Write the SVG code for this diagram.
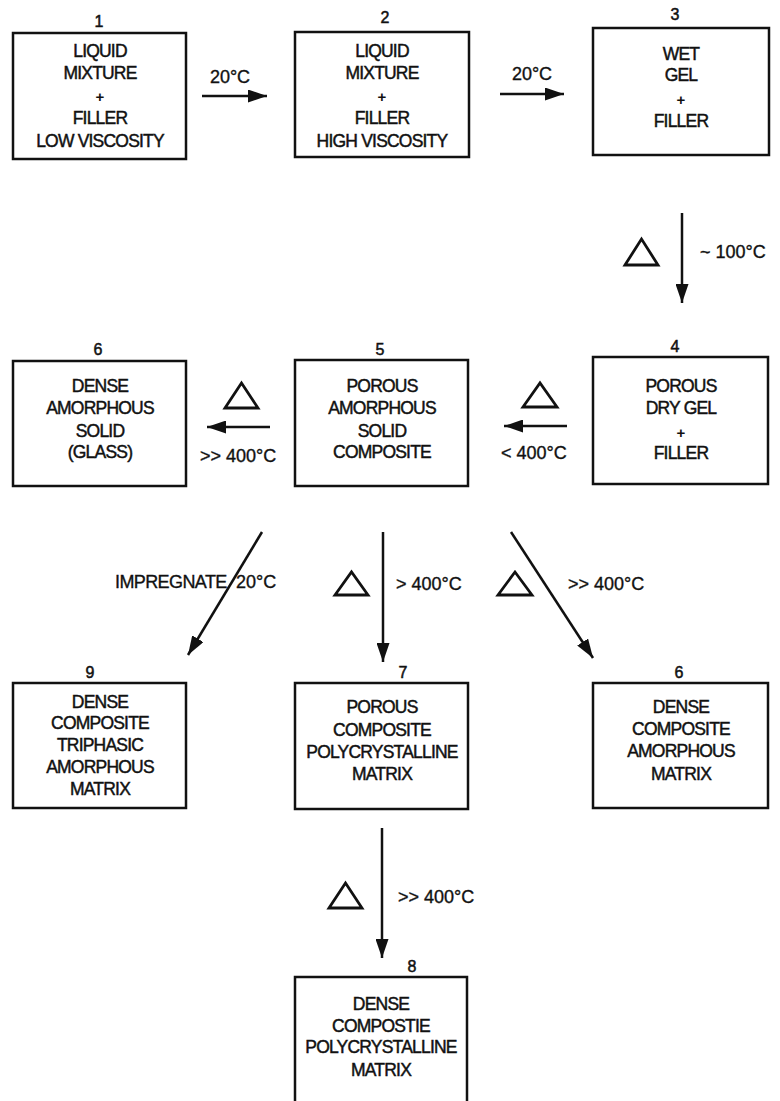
<svg xmlns="http://www.w3.org/2000/svg" width="780" height="1101" viewBox="0 0 780 1101">
  <style>
    .box { fill: #fff; stroke: #111; stroke-width: 2.5; }
    .t { font-family: "Liberation Sans", Arial, sans-serif; font-size: 17.5px; letter-spacing: -0.8px; fill: #111; stroke: #111; stroke-width: 0.45; text-anchor: middle; }
    .plus { font-family: "Liberation Sans", Arial, sans-serif; font-size: 15px; font-weight: bold; fill: #111; text-anchor: middle; }
    .num { font-family: "Liberation Sans", Arial, sans-serif; font-size: 16px; fill: #111; stroke: #111; stroke-width: 0.5; text-anchor: middle; }
    .lbl { font-family: "Liberation Sans", Arial, sans-serif; font-size: 18px; fill: #111; stroke: #111; stroke-width: 0.35; }
    .edge { stroke: #111; stroke-width: 2.5; fill: none; marker-end: url(#head); }
    .delta { fill: none; stroke: #111; stroke-width: 2.8; stroke-linejoin: miter; }
  </style>
  <defs>
    <marker id="head" markerUnits="userSpaceOnUse" markerWidth="19" markerHeight="13" refX="19" refY="6.5" orient="auto">
      <path d="M0,0 L19,6.5 L0,13 z" fill="#111"/>
    </marker>
  </defs>
  <rect width="780" height="1101" fill="#fff"/>

  <!-- row 1 -->
  <g id="node1">
    <text class="num" x="99" y="27">1</text>
    <rect class="box" x="13" y="33" width="173" height="126"/>
    <text class="t" x="100" y="57">LIQUID</text>
    <text class="t" x="100" y="79">MIXTURE</text>
    <text class="plus" x="100" y="102">+</text>
    <text class="t" x="100" y="124">FILLER</text>
    <text class="t" x="100" y="147">LOW VISCOSITY</text>
  </g>
  <g id="node2">
    <text class="num" x="385" y="23">2</text>
    <rect class="box" x="295" y="32" width="174" height="125"/>
    <text class="t" x="382" y="57">LIQUID</text>
    <text class="t" x="382" y="79">MIXTURE</text>
    <text class="plus" x="382" y="102">+</text>
    <text class="t" x="382" y="124">FILLER</text>
    <text class="t" x="382" y="147">HIGH VISCOSITY</text>
  </g>
  <g id="node3">
    <text class="num" x="675" y="20">3</text>
    <rect class="box" x="593" y="28" width="176" height="127"/>
    <text class="t" x="681" y="60">WET</text>
    <text class="t" x="681" y="81">GEL</text>
    <text class="plus" x="681" y="105">+</text>
    <text class="t" x="681" y="127">FILLER</text>
  </g>

  <!-- row 2 -->
  <g id="node6">
    <text class="num" x="98" y="355">6</text>
    <rect class="box" x="13" y="361" width="173" height="125"/>
    <text class="t" x="100" y="392">DENSE</text>
    <text class="t" x="100" y="414">AMORPHOUS</text>
    <text class="t" x="100" y="437">SOLID</text>
    <text class="t" x="100" y="458">(GLASS)</text>
  </g>
  <g id="node5">
    <text class="num" x="380" y="355">5</text>
    <rect class="box" x="295" y="360" width="173" height="126"/>
    <text class="t" x="382" y="392">POROUS</text>
    <text class="t" x="382" y="414">AMORPHOUS</text>
    <text class="t" x="382" y="437">SOLID</text>
    <text class="t" x="382" y="458">COMPOSITE</text>
  </g>
  <g id="node4">
    <text class="num" x="675" y="352">4</text>
    <rect class="box" x="593" y="357" width="175" height="127"/>
    <text class="t" x="681" y="392">POROUS</text>
    <text class="t" x="681" y="414">DRY GEL</text>
    <text class="plus" x="681" y="438">+</text>
    <text class="t" x="681" y="459">FILLER</text>
  </g>

  <!-- row 3 -->
  <g id="node9">
    <text class="num" x="90" y="678">9</text>
    <rect class="box" x="13" y="683" width="173" height="125"/>
    <text class="t" x="100" y="708">DENSE</text>
    <text class="t" x="100" y="729">COMPOSITE</text>
    <text class="t" x="100" y="751">TRIPHASIC</text>
    <text class="t" x="100" y="773">AMORPHOUS</text>
    <text class="t" x="100" y="795">MATRIX</text>
  </g>
  <g id="node7">
    <text class="num" x="403" y="678">7</text>
    <rect class="box" x="295" y="683" width="173" height="126"/>
    <text class="t" x="382" y="713">POROUS</text>
    <text class="t" x="382" y="736">COMPOSITE</text>
    <text class="t" x="382" y="758">POLYCRYSTALLINE</text>
    <text class="t" x="382" y="780">MATRIX</text>
  </g>
  <g id="node6b">
    <text class="num" x="679" y="678">6</text>
    <rect class="box" x="593" y="683" width="175" height="125"/>
    <text class="t" x="681" y="713">DENSE</text>
    <text class="t" x="681" y="735">COMPOSITE</text>
    <text class="t" x="681" y="757">AMORPHOUS</text>
    <text class="t" x="681" y="780">MATRIX</text>
  </g>

  <!-- row 4 -->
  <g id="node8">
    <text class="num" x="412" y="972">8</text>
    <rect class="box" x="295" y="977" width="172" height="140"/>
    <text class="t" x="381" y="1010">DENSE</text>
    <text class="t" x="381" y="1032">COMPOSTIE</text>
    <text class="t" x="381" y="1053">POLYCRYSTALLINE</text>
    <text class="t" x="381" y="1076">MATRIX</text>
  </g>

  <!-- connectors with their heat symbols and conditions -->
  <g id="connectors">
    <line class="edge" x1="202" y1="96" x2="267" y2="96"/>
    <text class="lbl" x="230" y="83" text-anchor="middle">20°C</text>

    <line class="edge" x1="500" y1="94" x2="564" y2="94"/>
    <text class="lbl" x="532" y="80" text-anchor="middle">20°C</text>

    <line class="edge" x1="682" y1="213" x2="682" y2="303"/>
    <polygon class="delta" points="625,265 641.5,239 658,265"/>
    <text class="lbl" x="700" y="258">~ 100°C</text>

    <line class="edge" x1="567" y1="426" x2="504" y2="426"/>
    <polygon class="delta" points="523,407 540,383 557,407"/>
    <text class="lbl" x="501" y="459">&lt; 400°C</text>

    <line class="edge" x1="270" y1="427" x2="207" y2="427"/>
    <polygon class="delta" points="225,408 241.5,383 258,408"/>
    <text class="lbl" x="200" y="462">&gt;&gt; 400°C</text>

    <line class="edge" x1="262" y1="532" x2="188" y2="655"/>
    <text class="lbl" x="115" y="588" letter-spacing="-0.6">IMPREGNATE</text>
    <text class="lbl" x="236" y="588">20°C</text>

    <line class="edge" x1="383" y1="532" x2="383" y2="662"/>
    <polygon class="delta" points="335,595 351.5,572 368,595"/>
    <text class="lbl" x="396" y="590">&gt; 400°C</text>

    <line class="edge" x1="511" y1="532" x2="593" y2="658"/>
    <polygon class="delta" points="498,595 515,572 532,595"/>
    <text class="lbl" x="568" y="590">&gt;&gt; 400°C</text>

    <line class="edge" x1="382" y1="828" x2="382" y2="958"/>
    <polygon class="delta" points="329,908 345.5,883 362,908"/>
    <text class="lbl" x="398" y="903">&gt;&gt; 400°C</text>
  </g>
</svg>
